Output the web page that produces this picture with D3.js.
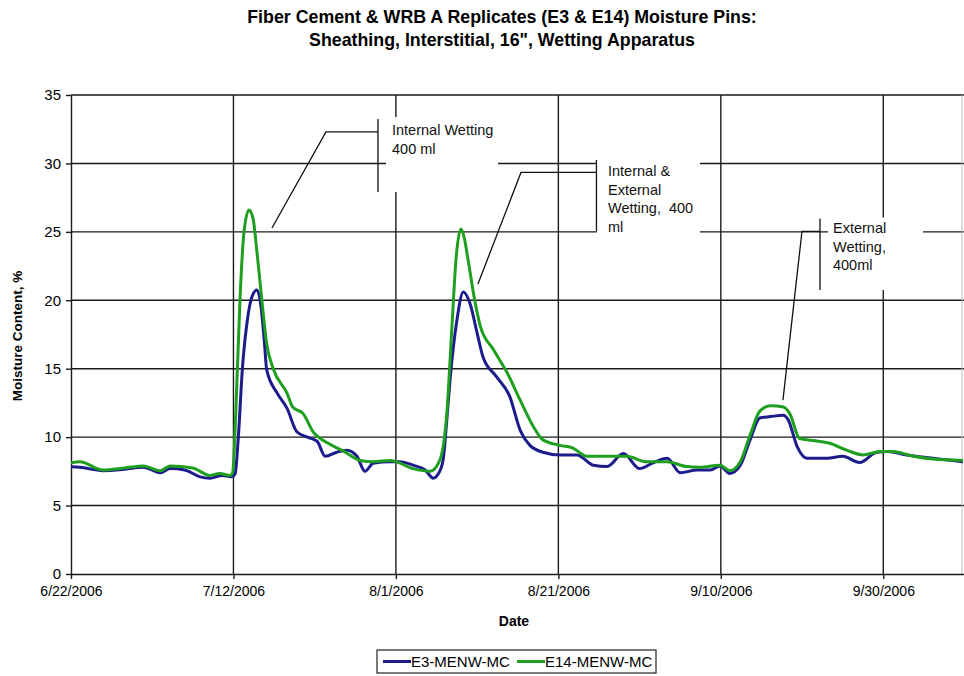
<!DOCTYPE html>
<html>
<head>
<meta charset="utf-8">
<script src="https://cdn.jsdelivr.net/npm/d3@7"></script>
<style>
  html, body { margin: 0; padding: 0; background: #fff; }
  svg { display: block; font-family: "Liberation Sans", Arial, sans-serif; }
</style>
</head>
<body>
<svg id="chart" width="964" height="676"></svg>
<script>
// Moisture pin readings, days after 6/22/2006 and % moisture content
const startDateText = "6/22/2006";
const endDateText = "10/10/2006";

const e3Days = [0, 1.1, 3.9, 6.6, 8.9, 11.0, 12.2, 14.0, 15.9, 17.1, 18.6, 19.8, 20.2, 20.6, 21.1, 21.7, 22.3, 22.9, 23.4, 23.8, 24.1, 25.4, 26.6, 27.8, 29.1, 30.3, 31.3, 32.7, 34.0, 35.2, 36.2, 37.2, 39.3, 40.5, 42.1, 43.6, 44.6, 45.2, 45.8, 46.3, 46.7, 47.5, 48.3, 49.1, 50.0, 50.7, 52.4, 54.0, 55.3, 56.5, 58.1, 60.2, 62.3, 64.3, 66.0, 68.0, 70.0, 71.6, 73.4, 75.0, 77.1, 78.7, 79.9, 81.1, 82.4, 83.6, 84.8, 86.1, 87.7, 88.3, 89.4, 90.6, 93.1, 95.0, 97.1, 99.2, 100.5, 102.9, 106.1, 109.8];
const e3Values = [7.84, 7.8, 7.55, 7.65, 7.8, 7.4, 7.7, 7.6, 7.1, 7.0, 7.2, 7.1, 7.3, 10.0, 15.0, 18.5, 20.3, 20.75, 19.5, 17.0, 14.9, 13.2, 12.1, 10.4, 10.0, 9.7, 8.6, 8.9, 9.05, 8.6, 7.5, 8.1, 8.2, 8.2, 7.95, 7.6, 7.0, 7.3, 8.3, 11.5, 14.4, 18.5, 20.6, 19.8, 17.6, 15.9, 14.4, 13.0, 10.5, 9.4, 8.9, 8.7, 8.7, 7.95, 7.85, 8.8, 7.7, 8.1, 8.45, 7.4, 7.6, 7.6, 7.9, 7.35, 7.95, 9.8, 11.4, 11.5, 11.6, 11.25, 9.3, 8.45, 8.45, 8.6, 8.15, 8.9, 8.95, 8.7, 8.45, 8.2];

const e14Days = [0, 1.1, 3.9, 6.6, 8.9, 11.0, 12.2, 15.0, 17.1, 18.3, 19.6, 19.9, 20.3, 20.8, 21.3, 21.9, 22.4, 22.9, 23.5, 24.1, 24.9, 26.6, 27.3, 28.6, 29.8, 31.5, 33.5, 35.6, 37.2, 39.3, 42.1, 44.2, 45.4, 46.3, 46.9, 47.4, 48.0, 48.4, 48.9, 49.7, 50.4, 52.0, 53.7, 55.3, 56.9, 58.1, 60.2, 61.8, 63.5, 66.7, 68.4, 70.9, 73.4, 75.8, 77.4, 79.9, 81.1, 82.4, 83.6, 84.8, 86.1, 87.7, 88.5, 89.7, 91.3, 93.4, 95.5, 97.5, 99.6, 101.2, 103.7, 106.1, 109.8];
const e14Values = [8.13, 8.2, 7.6, 7.75, 7.9, 7.55, 7.9, 7.75, 7.2, 7.35, 7.2, 7.4, 12.0, 20.0, 25.0, 26.6, 26.0, 23.5, 20.0, 16.8, 15.0, 13.2, 12.2, 11.7, 10.4, 9.6, 9.0, 8.3, 8.2, 8.3, 7.7, 7.5, 8.3, 12.0, 18.1, 23.0, 25.2, 24.6, 22.9, 20.0, 18.1, 16.4, 14.7, 12.7, 10.8, 9.8, 9.4, 9.2, 8.6, 8.6, 8.6, 8.2, 8.2, 7.85, 7.8, 7.95, 7.55, 8.2, 10.15, 11.9, 12.3, 12.2, 11.7, 9.9, 9.75, 9.55, 9.05, 8.7, 8.95, 8.95, 8.6, 8.4, 8.3];

const seriesNames = ["E3-MENW-MC", "E14-MENW-MC"];
const xTickLabels = ["6/22/2006", "7/12/2006", "8/1/2006", "8/21/2006", "9/10/2006", "9/30/2006"];
const yTickValues = [0, 5, 10, 15, 20, 25, 30, 35];

const titleLines = ["Fiber Cement & WRB A Replicates (E3 & E14) Moisture Pins:",
                    "Sheathing, Interstitial, 16\", Wetting Apparatus"];

// Callouts: positions in chart units (day offset, moisture %)
const callouts = [
  { lines: ["Internal Wetting", "400 ml"],
    tip: [24.74, 25.28], elbow: [31.39, 32.30], bar: [37.79, 33.25, 27.91],
    box: [38.78, 52.57, 33.39, 27.91], text: [39.52, 32.08] },
  { lines: ["Internal &", "External", "Wetting,  400", "ml"],
    tip: [50.10, 21.19], elbow: [55.40, 29.34], bar: [64.69, 30.25, 25.06],
    box: [64.75, 77.43, 30.47, 24.40], text: [66.11, 29.08] },
  { lines: ["External", "Wetting,", "400ml"],
    tip: [87.65, 12.71], elbow: [89.99, 25.03], bar: [92.21, 25.98, 20.75],
    box: [93.20, 104.89, 26.05, 20.75], text: [93.81, 24.92] }
];

const colors = ["#1c1c8c", "#1f9f1f"];

const parse = d3.timeParse("%-m/%-d/%Y");
const fmt = d3.timeFormat("%-m/%-d/%Y");
const start = parse(startDateText);
const dayToDate = d => new Date(start.getTime() + d * 864e5);

const margin = { left: 71, top: 95, right: 964, bottom: 574 };
const svg = d3.select("#chart");

const x = d3.scaleTime().domain([start, parse(endDateText)]).range([margin.left, 964.5]);
const y = d3.scaleLinear().domain([0, 35]).range([margin.bottom, margin.top]);

svg.append("defs").append("clipPath").attr("id", "plotClip")
  .append("rect").attr("x", margin.left).attr("y", margin.top - 5)
  .attr("width", 964 - margin.left).attr("height", margin.bottom - margin.top + 10);

const xTicks = xTickLabels.map(parse);
const gridColor = "#1a1a1a";

// horizontal gridlines
svg.append("g").selectAll("line").data(yTickValues.filter(v => v > 0)).join("line")
  .attr("x1", margin.left).attr("x2", 964)
  .attr("y1", d => y(d)).attr("y2", d => y(d))
  .attr("stroke", gridColor).attr("stroke-width", 1.4);

// vertical gridlines
svg.append("g").selectAll("line").data(xTicks.slice(1)).join("line")
  .attr("x1", d => x(d)).attr("x2", d => x(d))
  .attr("y1", margin.top).attr("y2", margin.bottom)
  .attr("stroke", gridColor).attr("stroke-width", 1.4);

// right plot border (faint)
svg.append("line").attr("x1", 962).attr("x2", 962).attr("y1", margin.top).attr("y2", margin.bottom)
  .attr("stroke", "#bbb").attr("stroke-width", 1);

// axes
const yAxis = d3.axisLeft(y).tickValues(yTickValues).tickSize(5).tickSizeOuter(0);
const gy = svg.append("g").attr("transform", `translate(${margin.left},0)`).call(yAxis);
gy.select(".domain").attr("stroke", gridColor).attr("stroke-width", 1.4);
gy.selectAll(".tick line").attr("stroke", gridColor).attr("stroke-width", 1.4);
gy.selectAll(".tick text").attr("font-size", 15).attr("font-family", "Liberation Sans, Arial, sans-serif")
  .attr("fill", "#000").attr("x", -10);

const xAxis = d3.axisBottom(x).tickValues(xTicks).tickFormat(fmt).tickSize(5).tickSizeOuter(0);
const gx = svg.append("g").attr("transform", `translate(0,${margin.bottom})`).call(xAxis);
gx.select(".domain").attr("stroke", gridColor).attr("stroke-width", 1.4);
gx.selectAll(".tick line").attr("stroke", gridColor).attr("stroke-width", 1.4);
gx.selectAll(".tick text").attr("font-size", 14).attr("font-family", "Liberation Sans, Arial, sans-serif")
  .attr("fill", "#000").attr("y", 12);

// series lines
const line = d3.line()
  .x(d => x(dayToDate(d[0])))
  .y(d => y(d[1]))
  .curve(d3.curveMonotoneX);

const seriesData = [
  d3.zip(e3Days, e3Values),
  d3.zip(e14Days, e14Values)
];

svg.append("g").attr("clip-path", "url(#plotClip)")
  .selectAll("path").data(seriesData).join("path")
  .attr("d", line)
  .attr("fill", "none")
  .attr("stroke", (d, i) => colors[i])
  .attr("stroke-width", 3)
  .attr("stroke-linejoin", "round");

// callouts
const cg = svg.append("g");
callouts.forEach(c => {
  const px = d => x(dayToDate(d));
  cg.append("rect")
    .attr("x", px(c.box[0])).attr("y", y(c.box[2]))
    .attr("width", px(c.box[1]) - px(c.box[0]))
    .attr("height", y(c.box[3]) - y(c.box[2]))
    .attr("fill", "#fff");
  const leader = [[c.tip[0], c.tip[1]], [c.elbow[0], c.elbow[1]], [c.bar[0], c.elbow[1]]];
  cg.append("path")
    .attr("d", d3.line().x(d => px(d[0])).y(d => y(d[1]))(leader))
    .attr("fill", "none").attr("stroke", "#111").attr("stroke-width", 1.3);
  cg.append("line")
    .attr("x1", px(c.bar[0])).attr("x2", px(c.bar[0]))
    .attr("y1", y(c.bar[1])).attr("y2", y(c.bar[2]))
    .attr("stroke", "#111").attr("stroke-width", 1.3);
  const t = cg.append("text")
    .attr("x", px(c.text[0])).attr("y", y(c.text[1]))
    .attr("font-size", 14.5).attr("fill", "#111")
    .attr("xml:space", "preserve");
  c.lines.forEach((l, i) => {
    t.append("tspan").attr("x", px(c.text[0])).attr("dy", i === 0 ? 0 : 18.7).text(l);
  });
});

// title
const title = svg.append("text").attr("text-anchor", "middle")
  .attr("font-weight", "bold").attr("font-size", 17.8).attr("fill", "#000");
titleLines.forEach((l, i) => {
  title.append("tspan").attr("x", 502).attr("y", 23 + i * 23).text(l);
});

// axis titles
svg.append("text").attr("text-anchor", "middle").attr("font-weight", "bold")
  .attr("font-size", 13.5).attr("fill", "#000")
  .attr("transform", "translate(22,336) rotate(-90)").text("Moisture Content, %");
svg.append("text").attr("text-anchor", "middle").attr("font-weight", "bold")
  .attr("font-size", 14).attr("fill", "#000")
  .attr("x", 514).attr("y", 626).text("Date");

// legend
const lg = svg.append("g");
lg.append("rect").attr("x", 377).attr("y", 650).attr("width", 279).attr("height", 23)
  .attr("fill", "#fff").attr("stroke", "#222").attr("stroke-width", 1.2);
const legendX = [383, 517];
seriesNames.forEach((name, i) => {
  lg.append("line").attr("x1", legendX[i]).attr("x2", legendX[i] + 28)
    .attr("y1", 661.5).attr("y2", 661.5)
    .attr("stroke", colors[i]).attr("stroke-width", 3);
  lg.append("text").attr("x", legendX[i] + 28).attr("y", 667)
    .attr("font-size", 15).attr("fill", "#000").text(name);
});
</script>
</body>
</html>
